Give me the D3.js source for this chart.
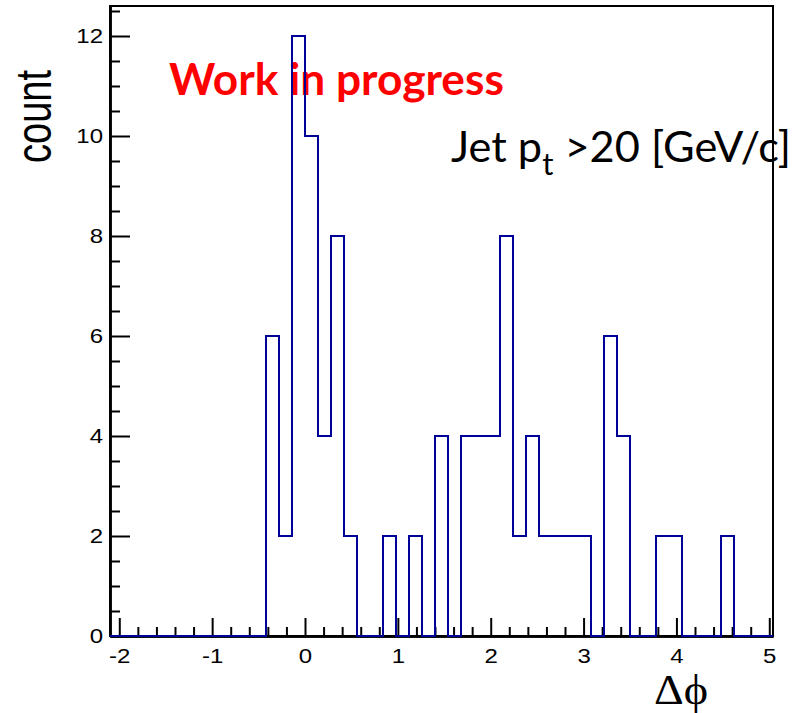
<!DOCTYPE html>
<html>
<head>
<meta charset="utf-8">
<script src="https://cdn.jsdelivr.net/npm/d3@7"></script>
<style>
  body { margin:0; background:#fff; }
  svg { display:block; }
</style>
</head>
<body>
<svg id="chart" width="805" height="713"></svg>
<script>
// histogram: 51 bins of 0.14 from -2.1
const xMin = -2.1;
const binWidth = 0.14;
const counts = [0,0,0,0,0,0,0,0,0,0,0,0,
  6,2,12,10,4,8,2,0,0,2,0,2,0,4,0,4,4,4,8,2,4,2,2,2,2,0,6,4,0,0,2,2,0,0,0,2,0,0,0];
const xTicks = [-2,-1,0,1,2,3,4,5];
const yTicks = [0,2,4,6,8,10,12];

const w = 805, h = 713;
const padL = 110, padR = 773, padT = 6, padB = 636;
const stretch = 1.3; // reference picture is widened

const x = d3.scaleLinear().domain([xMin, xMin + counts.length*binWidth]).range([padL,padR]);
const y = d3.scaleLinear().domain([0,12.6]).range([padB,padT]);

const svg = d3.select('#chart');

// overlay texts (drawn under the plot lines)
const wip = svg.append('text')
  .attr('x',169).attr('y',95)
  .attr('fill','#ff0000')
  .attr('font-family','Lato, "Open Sans", sans-serif')
  .attr('font-weight','bold')
  .attr('font-size',40)
  .text('Work in progress');
let len = wip.node().getComputedTextLength();
wip.attr('font-size', 40*335/len);

const jet = svg.append('text')
  .attr('x',451).attr('y',162)
  .attr('fill','#000')
  .attr('font-family','Lato, "Open Sans", sans-serif')
  .attr('font-size',36);
jet.append('tspan').text('Jet p');
jet.append('tspan').attr('dy',11).attr('font-size',26).text('t');
jet.append('tspan').attr('dy',-11).text(' >20 [GeV/c]');
len = jet.node().getComputedTextLength();
const js = 340/len;
jet.attr('font-size',36*js);
jet.selectAll('tspan').filter((d,i)=>i==1).attr('font-size',26*js).attr('dy',11*js);
jet.selectAll('tspan').filter((d,i)=>i==2).attr('dy',-11*js);

// frame
svg.append('rect')
  .attr('x',padL).attr('y',padT)
  .attr('width',padR-padL).attr('height',padB-padT)
  .attr('fill','none').attr('stroke','#000').attr('stroke-width',2);

// y axis
const yMinor = d3.range(0,12.6,0.5).filter(v=>v%2!==0);
const yAxisMinor = d3.axisLeft(y).tickValues(yMinor).tickSize(-10).tickSizeOuter(0).tickFormat('');
const yAxis = d3.axisLeft(y).tickValues(yTicks).tickSize(-20).tickSizeOuter(0).tickPadding(7).tickFormat(d=>String(d));
svg.append('g').attr('transform',`translate(${padL},0)`).call(yAxisMinor);
svg.append('g').attr('transform',`translate(${padL},0)`).call(yAxis);

// x axis
const xMinor = d3.range(-2,5.01,0.2).filter(v=>Math.abs(v-Math.round(v))>0.01);
const xAxisMinor = d3.axisBottom(x).tickValues(xMinor).tickSize(-9).tickSizeOuter(0).tickFormat('');
const xAxis = d3.axisBottom(x).tickValues(xTicks).tickSize(-18).tickSizeOuter(0).tickPadding(13).tickFormat(d=>String(d));
svg.append('g').attr('transform',`translate(0,${padB})`).call(xAxisMinor);
svg.append('g').attr('transform',`translate(0,${padB})`).call(xAxis);

svg.selectAll('.domain').attr('stroke','#000').attr('stroke-width',2.5);
svg.selectAll('.tick line').attr('stroke','#000').attr('stroke-width',2);
svg.selectAll('.tick text')
  .attr('font-family','"Liberation Sans", Arial, sans-serif')
  .attr('font-size',20).attr('fill','#000')
  .each(function(){
    const t = d3.select(this);
    t.attr('textLength', this.getComputedTextLength()*1.2).attr('lengthAdjust','spacingAndGlyphs');
  });

// histogram outline
const pts = [[x(xMin), y(0)]];
counts.forEach((c,i)=>{
  const x0 = xMin + i*binWidth;
  pts.push([x(x0), y(c)], [x(x0+binWidth), y(c)]);
});
pts.push([x(xMin + counts.length*binWidth), y(0)]);
svg.append('path')
  .attr('d', d3.line()(pts))
  .attr('fill','none').attr('stroke','#000099').attr('stroke-width',2);

// axis titles
svg.append('text')
  .attr('transform',`translate(51,163) rotate(-90) scale(1,${stretch})`)
  .attr('font-family','"Liberation Sans", Arial, sans-serif')
  .attr('font-size',38).attr('fill','#000')
  .text('count');

svg.append('text')
  .attr('transform',`translate(654,704) scale(1.1,1)`)
  .attr('font-family','"Liberation Serif", "Times New Roman", serif')
  .attr('font-size',42).attr('fill','#000')
  .text('Δϕ');
</script>
</body>
</html>
